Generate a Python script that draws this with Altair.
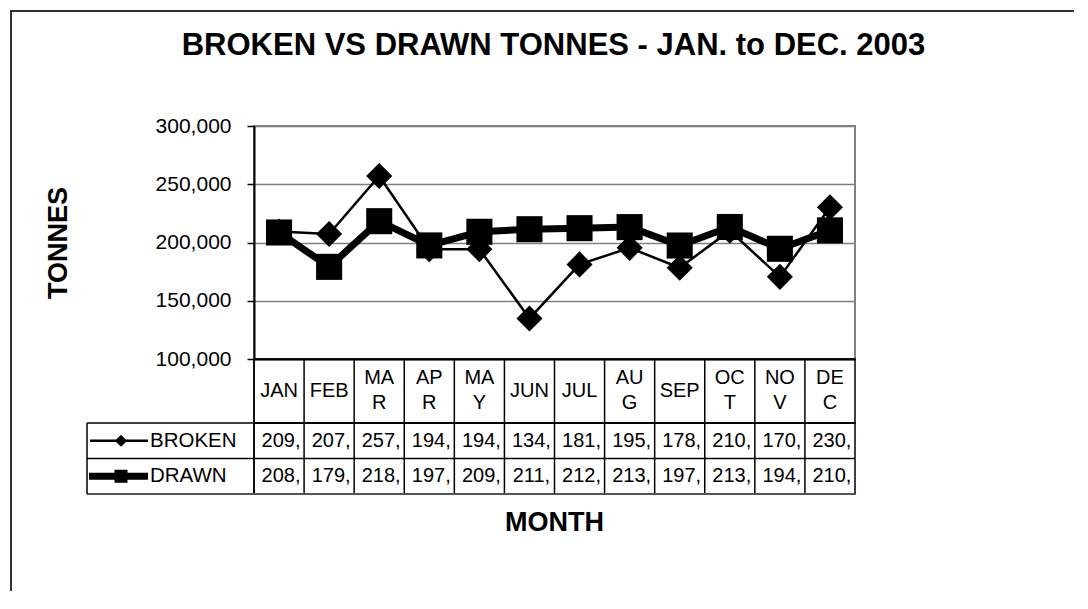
import altair as alt
import pandas as pd

# ---------------- data ----------------
months = ["JAN", "FEB", "MAR", "APR", "MAY", "JUN", "JUL", "AUG", "SEP", "OCT", "NOV", "DEC"]
month_headers = ["JAN", "FEB", "MA\nR", "AP\nR", "MA\nY", "JUN", "JUL", "AU\nG", "SEP", "OC\nT", "NO\nV", "DE\nC"]
series = ["BROKEN", "DRAWN"]
broken = [209400, 207300, 257100, 194200, 194300, 134800, 181200, 195400, 178300, 210100, 170500, 230200]
drawn = [208600, 179100, 218300, 197500, 209200, 211400, 212300, 213200, 197400, 213300, 194600, 210400]
y_ticks = [100000, 150000, 200000, 250000, 300000]
chart_title = "BROKEN VS DRAWN TONNES - JAN. to DEC. 2003"
x_title = "MONTH"
y_title = "TONNES"

# ---------------- layout constants ----------------
W = 601       # plot width
H = 233       # plot height
HEAD_H = 64   # month header row of data table
ROWS_H = 71   # two value rows of data table
FONT = "Liberation Sans"

df = pd.DataFrame({
    "month": months * 2,
    "series": [series[0]] * len(months) + [series[1]] * len(months),
    "tonnes": broken + drawn,
})
df["label"] = (df["tonnes"] // 1000).astype(str) + ","
hdr = pd.DataFrame({"month": months, "header": month_headers})
parts = hdr["header"].str.split("\n")
hdr["single"] = [p[0] if len(p) == 1 else "" for p in parts]
hdr["line1"] = [p[0] if len(p) == 2 else "" for p in parts]
hdr["line2"] = [p[1] if len(p) == 2 else "" for p in parts]
leg = pd.DataFrame({"series": series})
one = pd.DataFrame({"a": [0]})

# ---------------- main plot ----------------
xs_point = alt.Scale(type="point", domain=months, padding=0.5)
ys = alt.Scale(domain=[100000, 300000], nice=False, zero=False)

y_axis = alt.Axis(
    values=y_ticks, format=",.0f", labelFontSize=21, labelFont=FONT, labelColor="black",
    labelPadding=16, tickSize=7, tickColor="black", tickWidth=1.5,
    domainColor="black", domainWidth=2, grid=True, gridColor="#808080", gridWidth=1.5,
    title=y_title, titleFont=FONT, titleFontSize=27, titleFontWeight="bold", titleColor="black",
    titleX=-196, titleY=H / 2, titleAngle=270, titleAlign="center", titleBaseline="middle",
)
x_axis = alt.Axis(labels=False, ticks=False, title=None, domain=True, domainColor="black",
                  domainWidth=2, grid=False)

base = alt.Chart(df).encode(
    x=alt.X("month:N", scale=xs_point, axis=x_axis, sort=months),
    y=alt.Y("tonnes:Q", scale=ys, axis=y_axis),
)
b_line = base.transform_filter(alt.datum.series == "BROKEN").mark_line(color="black", strokeWidth=2.5)
b_pts = base.transform_filter(alt.datum.series == "BROKEN").mark_point(
    shape="diamond", filled=True, size=680, color="black", opacity=1)
d_line = base.transform_filter(alt.datum.series == "DRAWN").mark_line(
    color="black", strokeWidth=7, strokeJoin="round")
d_pts = base.transform_filter(alt.datum.series == "DRAWN").mark_point(
    shape="square", filled=True, size=680, color="black", opacity=1)

title_txt = alt.Chart(one).mark_text(
    font=FONT, fontSize=31, fontWeight="bold", color="black", align="center", baseline="alphabetic"
).encode(x=alt.value(W / 2 - 1), y=alt.value(-71), text=alt.value(chart_title))

frame_top = alt.Chart(one).mark_rule(color="#333333", strokeWidth=2).encode(
    x=alt.value(-244), x2=alt.value(820), y=alt.value(-115))
frame_left = alt.Chart(one).mark_rule(color="#333333", strokeWidth=2).encode(
    x=alt.value(-243), y=alt.value(-116), y2=alt.value(465))

top = alt.layer(frame_top, frame_left, title_txt, b_line, b_pts, d_line, d_pts).properties(
    width=W, height=H, view=alt.ViewBackground(stroke="#808080", strokeWidth=2))

# ---------------- data table: header row ----------------
xb = alt.Scale(type="band", domain=months, paddingInner=0, paddingOuter=0)
hdr_rules = alt.Chart(hdr).mark_rule(color="black", strokeWidth=1.5).encode(
    x=alt.X("month:N", scale=xb, axis=None, bandPosition=0))


def hdr_layer(field, ypos):
    return alt.Chart(hdr).mark_text(
        font=FONT, fontSize=20, baseline="middle", color="black"
    ).encode(x=alt.X("month:N", scale=xb, axis=None), y=alt.value(ypos), text=f"{field}:N")


header = alt.layer(hdr_rules, hdr_layer("single", 32), hdr_layer("line1", 19),
                   hdr_layer("line2", 44)).properties(
    width=W, height=HEAD_H, view=alt.ViewBackground(stroke="black", strokeWidth=1.5))

# ---------------- data table: value rows ----------------
yb = alt.Scale(type="band", domain=series, paddingInner=0, paddingOuter=0)
col_rules = alt.Chart(hdr).mark_rule(color="black", strokeWidth=1.5).encode(
    x=alt.X("month:N", scale=xb, axis=None, bandPosition=0))
row_rules = alt.Chart(leg).mark_rule(color="black", strokeWidth=1.5).encode(
    y=alt.Y("series:N", scale=yb, axis=None, bandPosition=0), x=alt.value(-167), x2=alt.value(W))
bottom_rule = alt.Chart(one).mark_rule(color="#555555", strokeWidth=2).encode(
    y=alt.value(ROWS_H), x=alt.value(-167), x2=alt.value(W))
left_rule = alt.Chart(one).mark_rule(color="black", strokeWidth=1.5).encode(
    x=alt.value(-167), y=alt.value(0), y2=alt.value(ROWS_H))
vals = alt.Chart(df).mark_text(font=FONT, fontSize=20, color="black", dx=2).encode(
    x=alt.X("month:N", scale=xb, axis=None),
    y=alt.Y("series:N", scale=yb, axis=None),
    text="label:N")
key_b_line = alt.Chart(leg).transform_filter(alt.datum.series == "BROKEN").mark_rule(
    color="black", strokeWidth=2.5).encode(
    x=alt.value(-164), x2=alt.value(-106), y=alt.Y("series:N", scale=yb, axis=None, bandPosition=0.5))
key_b_pt = alt.Chart(leg).transform_filter(alt.datum.series == "BROKEN").mark_point(
    shape="diamond", filled=True, size=150, color="black", opacity=1).encode(
    x=alt.value(-133), y=alt.Y("series:N", scale=yb, axis=None, bandPosition=0.5))
key_d_line = alt.Chart(leg).transform_filter(alt.datum.series == "DRAWN").mark_rule(
    color="black", strokeWidth=7).encode(
    x=alt.value(-165), x2=alt.value(-106), y=alt.Y("series:N", scale=yb, axis=None, bandPosition=0.5))
key_d_pt = alt.Chart(leg).transform_filter(alt.datum.series == "DRAWN").mark_point(
    shape="square", filled=True, size=170, color="black", opacity=1).encode(
    x=alt.value(-133), y=alt.Y("series:N", scale=yb, axis=None, bandPosition=0.5))
key_txt = alt.Chart(leg).mark_text(font=FONT, fontSize=20.5, color="black", align="left").encode(
    x=alt.value(-104), y=alt.Y("series:N", scale=yb, axis=None), text="series:N")
month_title = alt.Chart(one).mark_text(
    font=FONT, fontSize=27, fontWeight="bold", color="black", align="center", baseline="alphabetic"
).encode(x=alt.value(W / 2), y=alt.value(ROWS_H + 37), text=alt.value(x_title))

rows = alt.layer(col_rules, row_rules, bottom_rule, left_rule, vals,
                 key_b_line, key_b_pt, key_d_line, key_d_pt, key_txt, month_title).properties(
    width=W, height=ROWS_H, view=alt.ViewBackground(stroke="black", strokeWidth=1.5))

chart = alt.vconcat(top, header, rows, spacing=0, bounds="flush").resolve_scale(
    x="independent", y="independent").resolve_axis(x="independent", y="independent").properties(
    padding=0, background="white").configure(font=FONT)

chart.save("out.html", embed_options={"renderer": "svg", "actions": False})
